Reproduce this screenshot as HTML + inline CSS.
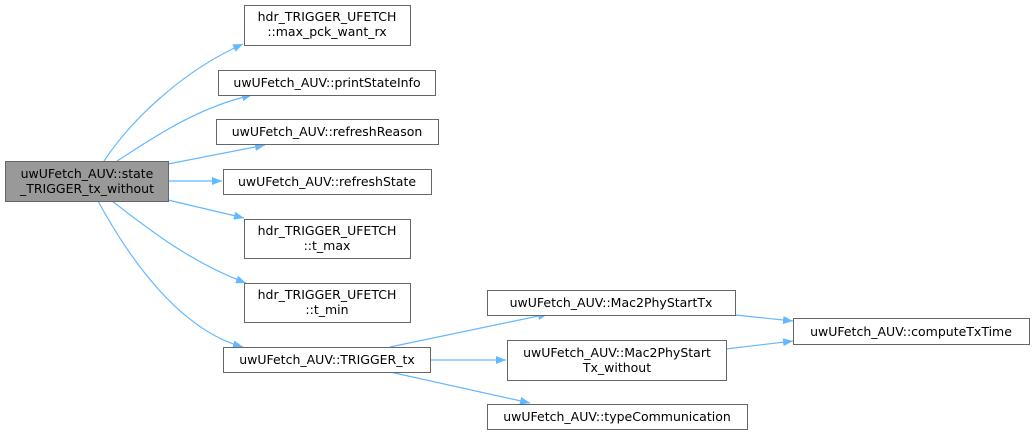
<!DOCTYPE html>
<html><head><meta charset="utf-8"><style>
body{margin:0;background:#fff;width:1035px;height:435px;overflow:hidden}
svg text{font-family:"DejaVu Sans","Liberation Sans",sans-serif;font-size:12.5px;fill:#000}
</style></head><body>
<svg width="1035" height="435" viewBox="0 0 1035 435" xmlns="http://www.w3.org/2000/svg">
<defs><marker id="a" markerWidth="10" markerHeight="8" refX="10" refY="4" orient="auto" markerUnits="userSpaceOnUse"><path d="M0,0 L10,4 L0,8 z" fill="#63b8ff"/></marker></defs>
<g fill="none" stroke="#63b8ff" stroke-width="1.2" marker-end="url(#a)">
<path d="M104,161 C130,122 180,72 243,44"/>
<path d="M117,161 C150,140 195,108 252,95"/>
<path d="M168,164 L265,145"/>
<path d="M168,181 L222,181"/>
<path d="M168,200 L244,218"/>
<path d="M112,201 C150,230 190,262 246,283"/>
<path d="M98,201 C130,260 180,330 243,347"/>
<path d="M390,347 L548,314"/>
<path d="M430,360 L506,360"/>
<path d="M390,372 L530,403"/>
<path d="M735,315 L793,321"/>
<path d="M726,349 L793,341"/>
</g>
<g stroke="#666" stroke-width="1" fill="#fff">
<rect x="5.5" y="161.5" width="163" height="40" fill="#999"/>
<rect x="244.5" y="5.5" width="166" height="40"/>
<rect x="218.5" y="70.5" width="217" height="25"/>
<rect x="216.5" y="119.5" width="222" height="25"/>
<rect x="223.5" y="169.5" width="208" height="25"/>
<rect x="244.5" y="219.5" width="166" height="39"/>
<rect x="244.5" y="283.5" width="166" height="39"/>
<rect x="223.5" y="347.5" width="207" height="25"/>
<rect x="487.5" y="290.5" width="248" height="25"/>
<rect x="507.5" y="340.5" width="219" height="40"/>
<rect x="487.5" y="404.5" width="260" height="25"/>
<rect x="793.5" y="318.5" width="236" height="26"/>
</g>
<g text-anchor="middle">
<text x="87" y="178">uwUFetch_AUV::state</text>
<text x="87" y="193">_TRIGGER_tx_without</text>
<text x="327" y="21">hdr_TRIGGER_UFETCH</text>
<text x="327" y="36">::max_pck_want_rx</text>
<text x="327" y="87">uwUFetch_AUV::printStateInfo</text>
<text x="327" y="136">uwUFetch_AUV::refreshReason</text>
<text x="327" y="186">uwUFetch_AUV::refreshState</text>
<text x="327" y="235">hdr_TRIGGER_UFETCH</text>
<text x="327" y="250">::t_max</text>
<text x="327" y="299">hdr_TRIGGER_UFETCH</text>
<text x="327" y="314">::t_min</text>
<text x="327" y="364">uwUFetch_AUV::TRIGGER_tx</text>
<text x="611" y="307">uwUFetch_AUV::Mac2PhyStartTx</text>
<text x="617" y="357">uwUFetch_AUV::Mac2PhyStart</text>
<text x="617" y="372">Tx_without</text>
<text x="617" y="421">uwUFetch_AUV::typeCommunication</text>
<text x="911" y="336">uwUFetch_AUV::computeTxTime</text>
</g>
</svg>
</body></html>
